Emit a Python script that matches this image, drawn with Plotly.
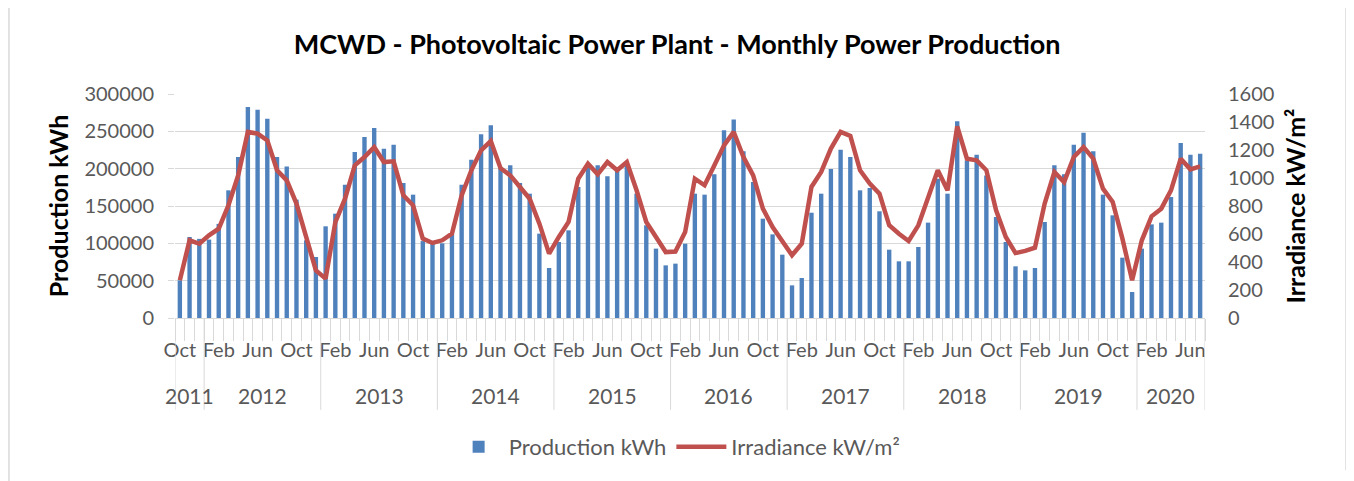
import plotly.graph_objects as go

# ---------------- data ----------------
month_names = ["Jan", "Feb", "Mar", "Apr", "May", "Jun",
               "Jul", "Aug", "Sep", "Oct", "Nov", "Dec"]
start_year = 2011
start_month = 10  # October 2011

production = [
    # 2011 Oct-Dec
    50400, 108500, 106000,
    # 2012
    105000, 126000, 171000, 215600, 282600, 279000, 267000, 215600, 203000, 158500, 104000, 81700,
    # 2013
    122800, 139700, 178600, 222300, 242400, 254400, 226800, 232100, 180800, 165200, 103000, 101800,
    # 2014
    100000, 113000, 178600, 212000, 246000, 258000, 202000, 204500, 180800, 166500, 113000, 67000,
    # 2015
    101800, 117400, 175400, 202200, 204500, 189700, 202200, 204500, 166500, 124100, 92900, 70500,
    # 2016
    72800, 99500, 166500, 165200, 192400, 251300, 266000, 223200, 182100, 133000, 112000, 84800,
    # 2017
    43700, 53600, 141000, 166500, 199500, 225400, 215600, 171000, 174100, 142900, 91500, 75900,
    # 2018
    75900, 95100, 127700, 186600, 166500, 263400, 211100, 218700, 191000, 135300, 101800, 69200,
    # 2019
    63800, 67000, 128600, 204500, 192400, 232100, 248200, 223200, 165200, 137500, 80800, 34800,
    # 2020 Jan-Jul
    92900, 125400, 127700, 162000, 234400, 218700, 220000,
]

irradiance = [
    # 2011 Oct-Dec
    269, 555, 530,
    # 2012
    590, 638, 805, 1019, 1329, 1317, 1269, 1055, 983, 817, 579, 340,
    # 2013
    281, 685, 852, 1090, 1150, 1221, 1114, 1119, 876, 805, 567, 536,
    # 2014
    555, 602, 876, 1055, 1198, 1264, 1070, 1019, 936, 852, 674, 460,
    # 2015
    579, 686, 995, 1102, 1026, 1114, 1055, 1114, 912, 686, 579, 471,
    # 2016
    475, 614, 995, 948, 1090, 1233, 1329, 1150, 1019, 781, 650, 543,
    # 2017
    448, 531, 936, 1043, 1210, 1329, 1300, 1055, 960, 888, 662, 602,
    # 2018
    550, 662, 852, 1055, 912, 1369, 1138, 1126, 1055, 769, 579, 464,
    # 2019
    479, 502, 817, 1043, 971, 1150, 1221, 1138, 924, 829, 567, 269,
    # 2020 Jan-Jul
    555, 726, 781, 912, 1138, 1062, 1083,
]

left_ticks = [0, 50000, 100000, 150000, 200000, 250000, 300000]
right_ticks = [0, 200, 400, 600, 800, 1000, 1200, 1400, 1600]

# ---------------- derived category info ----------------
n = len(production)
idx = list(range(n))
month_of = [(start_month - 1 + i) % 12 for i in idx]
year_of = [start_year + (start_month - 1 + i) // 12 for i in idx]

label_step = 4
tickvals = idx[::label_step]
ticktext = [month_names[month_of[i]] for i in tickvals]

# year groups
groups = []
for i, y in enumerate(year_of):
    if not groups or groups[-1][0] != y:
        groups.append([y, i, i])
    else:
        groups[-1][2] = i

FONT = "Lato, Carlito, 'Open Sans', sans-serif"
GRAY = "#595959"
GRID = "#d9d9d9"

fig = go.Figure()
fig.add_trace(go.Bar(
    x=idx, y=production, name="Production kWh",
    marker=dict(color="#4F81BD", line=dict(width=0)),
    width=0.45, yaxis="y",
))
fig.add_trace(go.Scatter(
    x=idx, y=irradiance, name="Irradiance kW/m²", mode="lines",
    line=dict(color="#C0504D", width=4.5), yaxis="y2",
))

shapes = []
# year separators
bounds = [g[1] - 0.5 for g in groups] + [groups[-1][2] + 0.5]
for b in bounds:
    shapes.append(dict(type="line", xref="x", yref="paper",
                       x0=b, x1=b, y0=0, y1=-0.41,
                       line=dict(color=GRID, width=1)))
# outer frame (left / right)
shapes.append(dict(type="line", xref="paper", yref="paper",
                   x0=-0.1612, x1=-0.1612, y0=-0.75, y1=1.40,
                   line=dict(color=GRID, width=1.5)))
shapes.append(dict(type="line", xref="paper", yref="paper",
                   x0=1.1369, x1=1.1369, y0=-0.68, y1=1.40,
                   line=dict(color=GRID, width=1.5)))

annotations = []
for y, a, b in groups:
    annotations.append(dict(
        x=(a + b) / 2, xref="x", y=-0.345, yref="paper",
        text=str(y), showarrow=False,
        font=dict(family=FONT, size=21, color=GRAY),
        xanchor="center", yanchor="middle",
    ))

fig.update_layout(
    width=1346, height=473,
    margin=dict(l=167, r=149, t=86, b=163),
    paper_bgcolor="white", plot_bgcolor="white",
    font=dict(family=FONT, size=20, color=GRAY),
    title=dict(
        text="<b>MCWD - Photovoltaic Power Plant - Monthly Power Production</b>",
        x=0.4875, xref="paper", xanchor="center",
        y=1 - 37 / 473, yref="container", yanchor="middle",
        font=dict(family=FONT, size=27, color="#000000"),
    ),
    xaxis=dict(
        range=[-0.5, n - 0.5],
        tickmode="array", tickvals=tickvals, ticktext=ticktext,
        ticks="", ticklabelstandoff=14,
        tickfont=dict(family=FONT, size=20, color=GRAY),
        showgrid=False, zeroline=False,
        showline=True, linecolor=GRID, linewidth=1,
        minor=dict(tickmode="linear", tick0=-0.5, dtick=1,
                   ticks="outside", ticklen=22, tickcolor=GRID,
                   tickwidth=1, showgrid=False),
    ),
    yaxis=dict(
        range=[0, 300000], tickmode="array", tickvals=left_ticks,
        ticktext=[str(v) for v in left_ticks],
        showgrid=True, gridcolor=GRID, gridwidth=1,
        zeroline=False, showline=False,
        ticks="outside", ticklen=6, tickcolor=GRID,
        ticklabelstandoff=10,
        tickfont=dict(family=FONT, size=20, color=GRAY),
        title=dict(text="<b>Production kWh</b>", standoff=8,
                   font=dict(family=FONT, size=25, color="#000000")),
    ),
    yaxis2=dict(
        range=[0, 1600], tickmode="array", tickvals=right_ticks,
        ticktext=[str(v) for v in right_ticks],
        overlaying="y", side="right",
        showgrid=False, zeroline=False, showline=False,
        ticks="outside", ticklen=18, tickcolor="rgba(0,0,0,0)",
        tickfont=dict(family=FONT, size=20, color=GRAY),
        title=dict(text="<b>Irradiance kW/m²</b>", standoff=14,
                   font=dict(family=FONT, size=25, color="#000000")),
    ),
    legend=dict(
        orientation="h", x=0.4875, xanchor="center",
        y=-0.576, yanchor="middle",
        font=dict(family=FONT, size=22, color=GRAY),
        itemwidth=50, traceorder="normal",
    ),
    bargap=0.5,
    shapes=shapes, annotations=annotations,
    showlegend=True,
)

fig.write_html("out.html")
